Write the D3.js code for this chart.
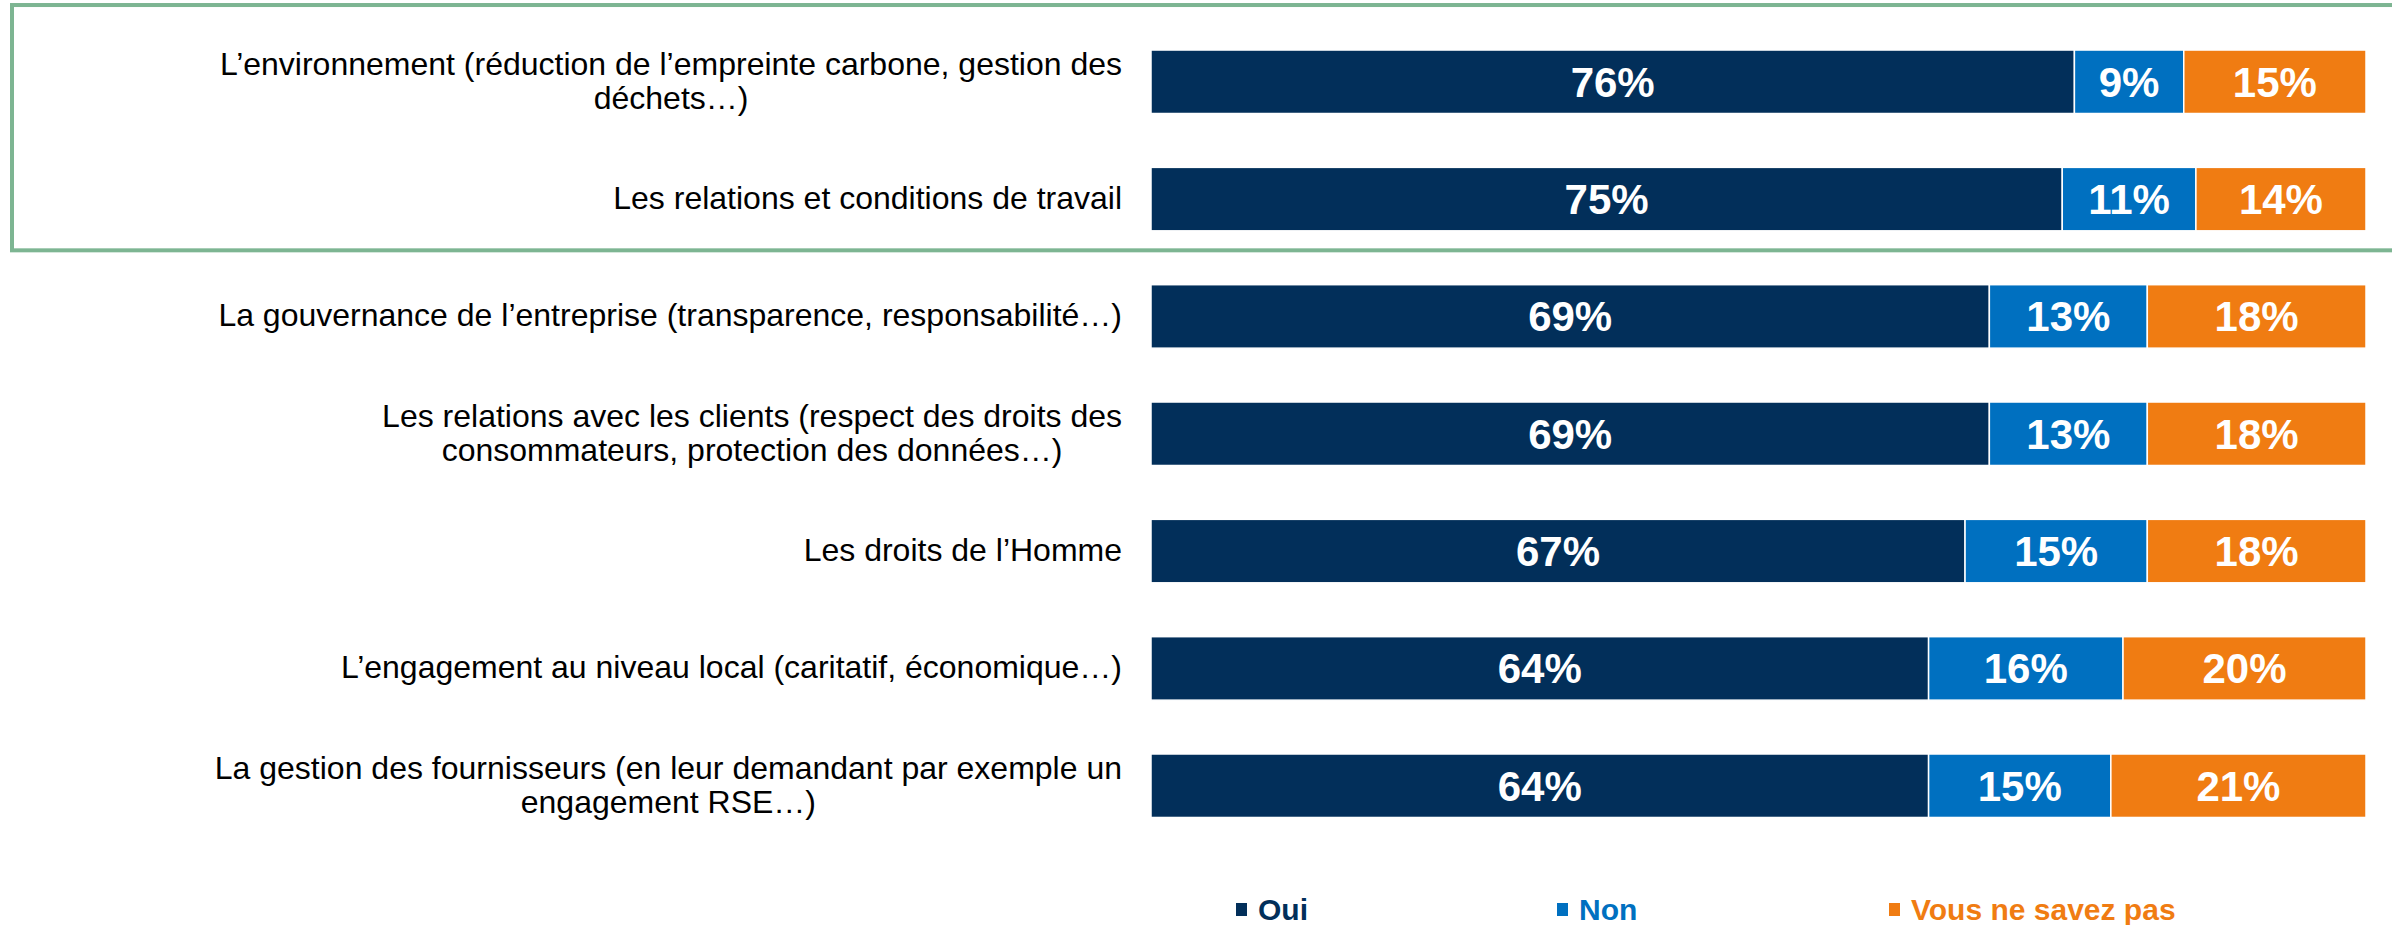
<!DOCTYPE html>
<html>
<head>
<meta charset="utf-8">
<title>RSE</title>
<script src="https://d3js.org/d3.v7.min.js"></script>
<style>
  body { margin: 0; background: #fff; }
  svg { display: block; font-family: "Liberation Sans", Arial, sans-serif; }
</style>
</head>
<body>
<div class="chart"></div>
<script type="text/javascript">
    var categories = [
        "L\u2019environnement (réduction de l\u2019empreinte carbone, gestion des\ndéchets\u2026)",
        "Les relations et conditions de travail",
        "La gouvernance de l\u2019entreprise (transparence, responsabilité\u2026)",
        "Les relations avec les clients (respect des droits des\nconsommateurs, protection des données\u2026)",
        "Les droits de l\u2019Homme",
        "L\u2019engagement au niveau local (caritatif, économique\u2026)",
        "La gestion des fournisseurs (en leur demandant par exemple un\nengagement RSE\u2026)"
    ];
    var oui = [76, 75, 69, 69, 67, 64, 64];
    var non = [9, 11, 13, 13, 15, 16, 15];
    var nsp = [15, 14, 18, 18, 18, 20, 21];
    var seriesNames = ["Oui", "Non", "Vous ne savez pas"];
    var colors = ["#022f5a", "#0070c0", "#f07c12"];

    var width = 2392, height = 925;

    var rows = categories.map(function(c, i) {
        return { cat: c, Oui: oui[i], Non: non[i], "Vous ne savez pas": nsp[i] };
    });

    var x = d3.scaleLinear().domain([0, 100]).range([1151, 2366]);
    var y = d3.scaleBand().domain(categories).range([23.1, 844.4])
        .paddingInner(0.459).paddingOuter(0.2295);
    var color = d3.scaleOrdinal().domain(seriesNames).range(colors);

    var svg = d3.select(".chart").append("svg")
        .attr("width", width)
        .attr("height", height);

    svg.append("rect").attr("width", width).attr("height", height).attr("fill", "#fff");

    // green box round the first two items
    svg.append("rect")
        .attr("x", 12)
        .attr("y", y(categories[0]) - 45)
        .attr("width", width + 20)
        .attr("height", y(categories[1]) + y.bandwidth() + 19.5 - (y(categories[0]) - 45))
        .attr("fill", "none")
        .attr("stroke", "#7db592")
        .attr("stroke-width", 4);

    var stacked = d3.stack().keys(seriesNames)(rows);

    var layers = svg.selectAll("g.layer")
        .data(stacked)
        .enter().append("g")
        .attr("class", "layer")
        .attr("fill", function(d) { return color(d.key); });

    layers.selectAll("rect")
        .data(function(d) { return d; })
        .enter().append("rect")
        .attr("x", function(d) { return x(d[0]); })
        .attr("y", function(d) { return y(d.data.cat); })
        .attr("width", function(d) { return x(d[1]) - x(d[0]); })
        .attr("height", y.bandwidth())
        .attr("stroke", "#fff")
        .attr("stroke-width", 1.5);

    layers.selectAll("text")
        .data(function(d) { return d; })
        .enter().append("text")
        .attr("x", function(d) { return (x(d[0]) + x(d[1])) / 2; })
        .attr("y", function(d) { return y(d.data.cat) + y.bandwidth() / 2 + 15; })
        .attr("text-anchor", "middle")
        .attr("fill", "#fff")
        .attr("font-weight", "bold")
        .attr("font-size", 42)
        .text(function(d) { return (d[1] - d[0]) + "%"; });

    // category labels, right aligned block, lines centred inside it
    var labelRight = 1122, fs = 32, lh = 34;
    categories.forEach(function(c) {
        var lines = c.split("\n");
        var cy = y(c) + y.bandwidth() / 2;
        var g = svg.append("g");
        var texts = lines.map(function(l, i) {
            return g.append("text")
                .attr("font-size", fs)
                .attr("fill", "#000")
                .attr("text-anchor", "middle")
                .attr("y", cy + (i - (lines.length - 1) / 2) * lh + 10)
                .text(l);
        });
        var maxW = d3.max(texts, function(t) { return t.node().getComputedTextLength(); });
        texts.forEach(function(t) { t.attr("x", labelRight - maxW / 2); });
    });

    // legend
    var legendX = [1236, 1557, 1889];
    var legend = svg.selectAll("g.legend")
        .data(seriesNames)
        .enter().append("g")
        .attr("class", "legend")
        .attr("transform", function(d, i) { return "translate(" + legendX[i] + ",0)"; });
    legend.append("rect")
        .attr("x", 0).attr("y", 903)
        .attr("width", 11).attr("height", 13)
        .attr("fill", function(d) { return color(d); });
    legend.append("text")
        .attr("x", 22).attr("y", 920)
        .attr("font-size", 30)
        .attr("font-weight", "bold")
        .attr("fill", function(d) { return color(d); })
        .text(function(d) { return d; });
</script>
</body>
</html>
